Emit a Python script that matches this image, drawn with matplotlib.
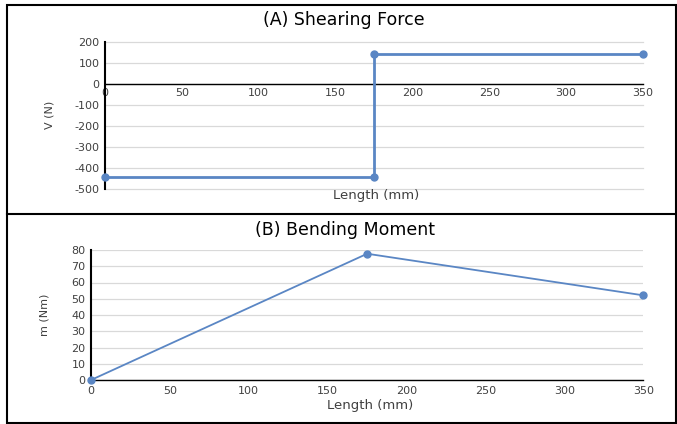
import matplotlib.pyplot as plt
from matplotlib.patches import Rectangle
from matplotlib.lines import Line2D

plt.rcParams['axes.unicode_minus'] = False

# Shear force diagram (N) along beam length (mm)
shear_x = [0, 175, 175, 350]
shear_v = [-444, -444, 142, 142]

# Bending moment diagram (Nm)
moment_x = [0, 175, 350]
moment_m = [0, 77.7, 52.1]

shear_yticks = [200, 100, 0, -100, -200, -300, -400, -500]
moment_yticks = [0, 10, 20, 30, 40, 50, 60, 70, 80]
length_ticks = [0, 50, 100, 150, 200, 250, 300, 350]

BLUE = '#5A86C4'
GRID = '#D9D9D9'
TXT = '#404040'

fig = plt.figure(figsize=(6.77, 4.24), dpi=100)
W, H = 677, 424


def fr(x0, y0, x1, y1):
    # pixel box (from top-left) -> figure fraction [l, b, w, h]
    return [x0 / W, 1 - y1 / H, (x1 - x0) / W, (y1 - y0) / H]


def style(ax):
    for s in ['top', 'right']:
        ax.spines[s].set_visible(False)
    ax.spines['left'].set_color('black')
    ax.spines['left'].set_linewidth(1.5)
    ax.spines['bottom'].set_color('black')
    ax.spines['bottom'].set_linewidth(1.0)
    ax.tick_params(length=0, labelsize=8, labelcolor=TXT, pad=4)
    ax.grid(axis='y', color=GRID, linewidth=0.9)
    ax.set_axisbelow(True)
    ax.set_xlim(0, 350)
    ax.set_xticks(length_ticks)


# (A) shearing force
ax1 = fig.add_axes(fr(105, 41.7, 643, 189))
style(ax1)
ax1.plot(shear_x, shear_v, color=BLUE, lw=2, marker='o', ms=5, clip_on=False, zorder=3)
ax1.set_ylim(-500, 200)
ax1.set_yticks(shear_yticks)
for gl in ax1.get_ygridlines():
    gl.set_clip_on(False)
ax1.spines['bottom'].set_position(('data', 0))
ax1.spines['bottom'].set_zorder(2)
ax1.tick_params(axis='x', pad=3)
fig.text(344 / W, 1 - 20 / H, '(A) Shearing Force', ha='center', va='center',
         fontsize=12.5, color='black')
fig.text(376 / W, 1 - 196 / H, 'Length (mm)', ha='center', va='center',
         fontsize=9.5, color=TXT)
ax1.set_ylabel('V (N)', fontsize=8, color=TXT, labelpad=14)

# (B) bending moment
ax2 = fig.add_axes(fr(91, 250, 643.3, 380))
style(ax2)
ax2.plot(moment_x, moment_m, color=BLUE, lw=1.3, marker='o', ms=5, clip_on=False, zorder=3)
ax2.set_ylim(0, 80)
ax2.set_yticks(moment_yticks)
fig.text(345 / W, 1 - 230 / H, '(B) Bending Moment', ha='center', va='center',
         fontsize=12.5, color='black')
fig.text(370 / W, 1 - 405 / H, 'Length (mm)', ha='center', va='center',
         fontsize=9.5, color=TXT)
ax2.set_ylabel('m (Nm)', fontsize=8, color=TXT, labelpad=16)

# outer frame and separator
fig.add_artist(Rectangle((7 / W, 1 - 423 / H), (676 - 7) / W, (423 - 5) / H,
                         transform=fig.transFigure, fill=False, edgecolor='black', lw=1.5))
fig.add_artist(Line2D([7 / W, 676 / W], [1 - 214 / H, 1 - 214 / H],
                      transform=fig.transFigure, color='black', lw=1.5))

fig.savefig('out.png', dpi=100)
